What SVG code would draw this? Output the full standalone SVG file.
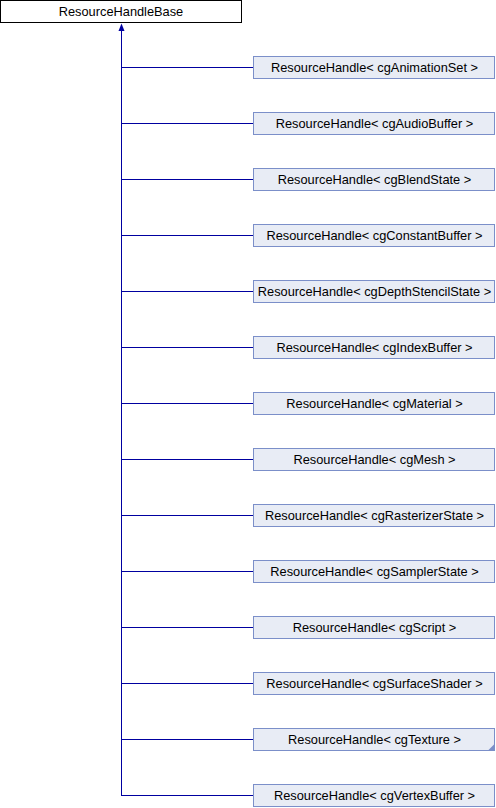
<svg xmlns="http://www.w3.org/2000/svg" width="496" height="808" viewBox="0 0 496 808">
<style>
.base{fill:#ffffff;stroke:#000000;stroke-width:1}
.cls{fill:#e8ecf5;stroke:#7b8fc9;stroke-width:1}
.lbl{font-family:"Liberation Sans",Arial,sans-serif;font-size:12.8px;fill:#000000;text-anchor:middle}
.edge{fill:none;stroke:#0000a0;stroke-width:1;shape-rendering:crispEdges}
</style>
<g id="connectors">
<path class="edge" d="M121.5,28 V795.5"/>
<polygon points="121.5,23.5 118.5,31 124.5,31" fill="#0000a0"/>
<path class="edge" d="M121.5,67.5 H253.5"/>
<path class="edge" d="M121.5,123.5 H253.5"/>
<path class="edge" d="M121.5,179.5 H253.5"/>
<path class="edge" d="M121.5,235.5 H253.5"/>
<path class="edge" d="M121.5,291.5 H253.5"/>
<path class="edge" d="M121.5,347.5 H253.5"/>
<path class="edge" d="M121.5,403.5 H253.5"/>
<path class="edge" d="M121.5,459.5 H253.5"/>
<path class="edge" d="M121.5,515.5 H253.5"/>
<path class="edge" d="M121.5,571.5 H253.5"/>
<path class="edge" d="M121.5,627.5 H253.5"/>
<path class="edge" d="M121.5,683.5 H253.5"/>
<path class="edge" d="M121.5,739.5 H253.5"/>
<path class="edge" d="M121.5,795.5 H253.5"/>
</g>
<g id="ResourceHandleBase">
<rect class="base" x="0.5" y="0.5" width="241" height="22"/>
<text class="lbl" x="121" y="16">ResourceHandleBase</text>
</g>
<g id="n1"><rect class="cls" x="253.5" y="56.5" width="241" height="22"/><text class="lbl" x="374.5" y="72">ResourceHandle&lt; cgAnimationSet &gt;</text></g>
<g id="n2"><rect class="cls" x="253.5" y="112.5" width="241" height="22"/><text class="lbl" x="374.5" y="128">ResourceHandle&lt; cgAudioBuffer &gt;</text></g>
<g id="n3"><rect class="cls" x="253.5" y="168.5" width="241" height="22"/><text class="lbl" x="374.5" y="184">ResourceHandle&lt; cgBlendState &gt;</text></g>
<g id="n4"><rect class="cls" x="253.5" y="224.5" width="241" height="22"/><text class="lbl" x="374.5" y="240">ResourceHandle&lt; cgConstantBuffer &gt;</text></g>
<g id="n5"><rect class="cls" x="253.5" y="280.5" width="241" height="22"/><text class="lbl" x="374.5" y="296">ResourceHandle&lt; cgDepthStencilState &gt;</text></g>
<g id="n6"><rect class="cls" x="253.5" y="336.5" width="241" height="22"/><text class="lbl" x="374.5" y="352">ResourceHandle&lt; cgIndexBuffer &gt;</text></g>
<g id="n7"><rect class="cls" x="253.5" y="392.5" width="241" height="22"/><text class="lbl" x="374.5" y="408">ResourceHandle&lt; cgMaterial &gt;</text></g>
<g id="n8"><rect class="cls" x="253.5" y="448.5" width="241" height="22"/><text class="lbl" x="374.5" y="464">ResourceHandle&lt; cgMesh &gt;</text></g>
<g id="n9"><rect class="cls" x="253.5" y="504.5" width="241" height="22"/><text class="lbl" x="374.5" y="520">ResourceHandle&lt; cgRasterizerState &gt;</text></g>
<g id="n10"><rect class="cls" x="253.5" y="560.5" width="241" height="22"/><text class="lbl" x="374.5" y="576">ResourceHandle&lt; cgSamplerState &gt;</text></g>
<g id="n11"><rect class="cls" x="253.5" y="616.5" width="241" height="22"/><text class="lbl" x="374.5" y="632">ResourceHandle&lt; cgScript &gt;</text></g>
<g id="n12"><rect class="cls" x="253.5" y="672.5" width="241" height="22"/><text class="lbl" x="374.5" y="688">ResourceHandle&lt; cgSurfaceShader &gt;</text></g>
<g id="n13"><rect class="cls" x="253.5" y="728.5" width="241" height="22"/><polygon points="494.5,744 494.5,750.5 488,750.5" fill="#7b8fc9"/><text class="lbl" x="374.5" y="744">ResourceHandle&lt; cgTexture &gt;</text></g>
<g id="n14"><rect class="cls" x="253.5" y="784.5" width="241" height="22"/><text class="lbl" x="374.5" y="800">ResourceHandle&lt; cgVertexBuffer &gt;</text></g>
</svg>
